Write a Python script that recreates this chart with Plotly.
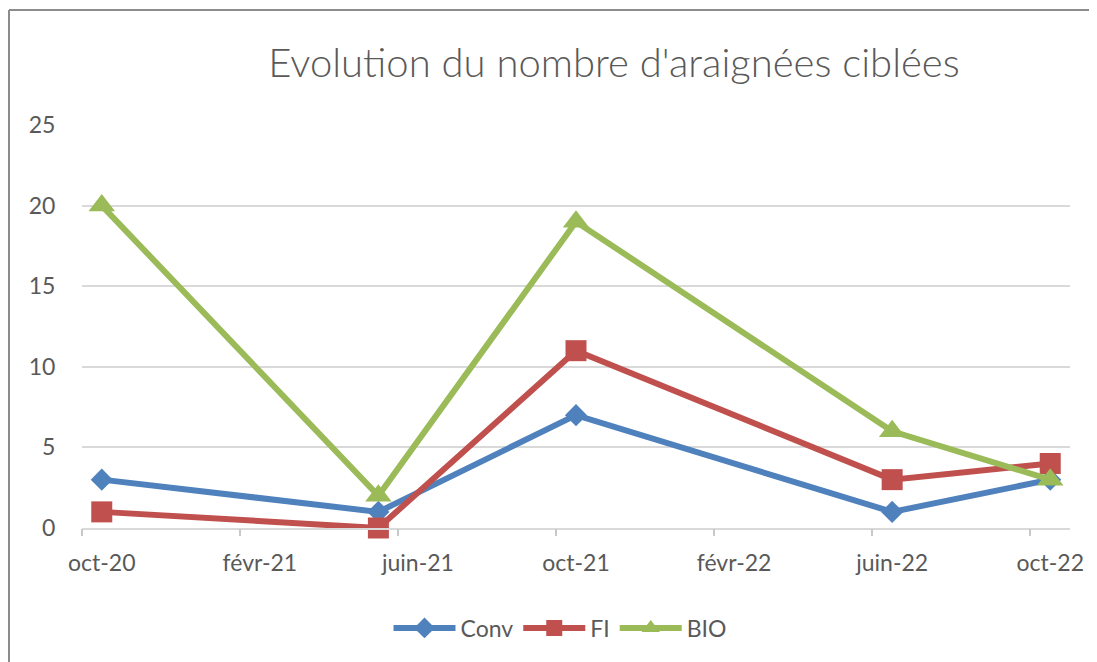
import pandas as pd
import plotly.graph_objects as go

# ---- data ----
dates = ["2020-10", "2021-05", "2021-10", "2022-06", "2022-10"]
conv = [3, 1, 7, 1, 3]
fi = [1, 0, 11, 3, 4]
bio = [20, 2, 19, 6, 3]
tick_months = ["2020-10", "2021-02", "2021-06", "2021-10", "2022-02", "2022-06", "2022-10"]
tick_labels = ["oct-20", "févr-21", "juin-21", "oct-21", "févr-22", "juin-22", "oct-22"]
title = "Evolution du nombre d'araignées ciblées"

start = pd.Period("2020-10", freq="M")
def midx(s):
    return (pd.Period(s, freq="M") - start).n

x = [midx(d) for d in dates]
tickvals = [midx(t) for t in tick_months]
tickmarks = [v - 0.5 for v in tickvals]

# page is offset by the 8px body margin
OFF = 8
W, H = 1097 - OFF, 662 - OFF
L, R, T, B = 82 - OFF, 1070 - OFF, 125 - OFF, 528 - OFF
def px(p):
    return (p - OFF - L) / (R - L)
def py(p):
    return (B - (p - OFF)) / (B - T)

font = "Lato, 'Open Sans', sans-serif"
grey = "#595959"

fig = go.Figure()
series = [
    ("Conv", conv, "#4F81BD", "diamond", 17),
    ("FI", fi, "#C0504D", "square", 21),
    ("BIO", bio, "#9BBB59", "triangle-up", 23),
]
for name, vals, col, sym, sz in series:
    fig.add_trace(go.Scatter(
        x=x, y=vals, name=name, mode="lines+markers",
        line=dict(color=col, width=6),
        marker=dict(symbol=sym, size=sz, color=col),
        cliponaxis=False,
    ))

# invisible trace to activate overlay axis for tick marks
fig.add_trace(go.Scatter(x=[x[0]], y=[0], xaxis="x2", showlegend=False,
                         mode="markers", marker=dict(opacity=0), hoverinfo="skip"))

fig.update_layout(
    width=W, height=H,
    margin=dict(l=L, r=W - R, t=T, b=H - B, pad=0),
    paper_bgcolor="white", plot_bgcolor="white",
    font=dict(family=font, color=grey),
    title=dict(text=title, xref="container", x=(614 - OFF) / W, xanchor="center",
               yref="container", y=1 - (63 - OFF) / H, yanchor="middle",
               font=dict(family=font, size=40, color=grey, weight=300)),
    xaxis=dict(range=[-0.5, 24.5], tickvals=tickvals, ticktext=tick_labels,
               ticks="outside", ticklen=14, tickcolor="rgba(0,0,0,0)",
               showgrid=False, showline=True, linecolor="#d9d9d9", linewidth=1.5,
               tickfont=dict(size=23, color=grey), zeroline=False),
    xaxis2=dict(range=[-0.5, 24.5], overlaying="x", anchor="y", side="bottom",
                tickvals=tickmarks, ticks="outside", ticklen=7, tickcolor="#c8c8c8",
                tickwidth=1.5, showticklabels=False, showgrid=False, showline=False,
                zeroline=False),
    yaxis=dict(range=[0, 25], tickvals=[0, 5, 10, 15, 20, 25],
               showgrid=True, gridcolor="#d9d9d9", gridwidth=1.5,
               ticks="outside", ticklen=21, tickcolor="rgba(0,0,0,0)",
               tickfont=dict(size=23, color=grey), zeroline=False, showline=False),
    legend=dict(orientation="h", x=px(560), xanchor="center", y=py(628), yanchor="middle",
                font=dict(size=23, color=grey), itemwidth=62, bgcolor="rgba(0,0,0,0)"),
    shapes=[
        dict(type="line", xref="paper", yref="paper", x0=px(9), x1=px(9), y0=py(10), y1=py(700),
             line=dict(color="#8c8c8c", width=2)),
        dict(type="line", xref="paper", yref="paper", x0=px(9), x1=px(1120), y0=py(10), y1=py(10),
             line=dict(color="#8c8c8c", width=2)),
    ],
)

fig.write_html("out.html")
